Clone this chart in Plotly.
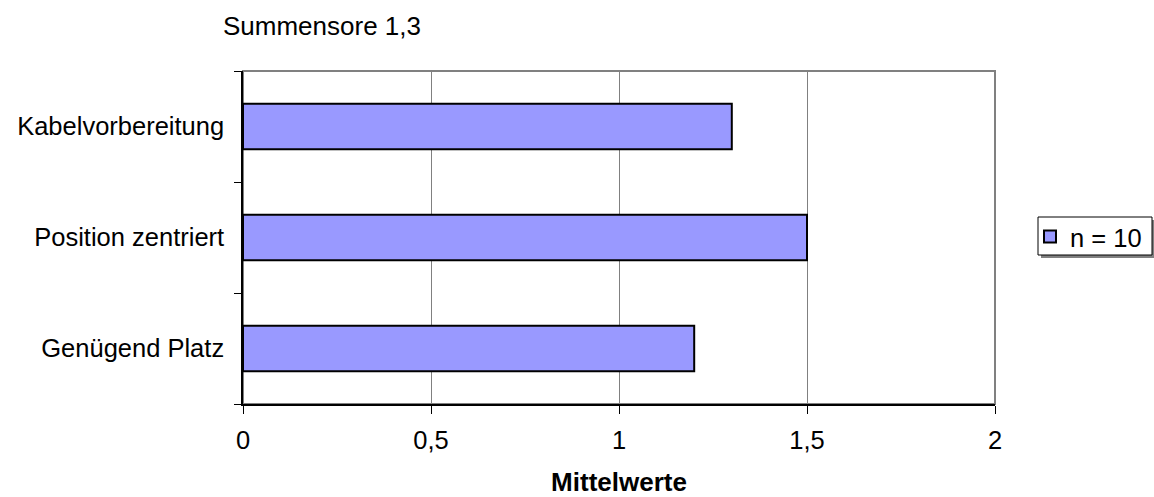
import plotly.graph_objects as go

# Mean ratings per criterion (bottom to top)
categories = ["Genügend Platz", "Position zentriert", "Kabelvorbereitung"]
means = [1.2, 1.5, 1.3]
series_name = "n = 10"
x_ticks = [0, 0.5, 1, 1.5, 2]
x_tick_labels = ["0", "0,5", "1", "1,5", "2"]

FONT = "Liberation Sans, Arial, sans-serif"
W, H = 1154, 497
L, R, T, B = 243, 159, 71, 93
PW, PH = W - L - R, H - T - B


def px_x(p):
    return (p - L) / PW


def px_y(p):
    return (H - B - p) / PH


fig = go.Figure()
fig.add_trace(go.Bar(
    y=categories,
    x=means,
    orientation="h",
    name=series_name,
    width=0.41,
    marker=dict(color="#9999FF", line=dict(color="#000000", width=2)),
    showlegend=True,
))

# Plot area frame (grey) drawn beneath the black axis lines
fig.add_shape(type="rect", xref="paper", yref="paper", x0=0, x1=1, y0=0, y1=1,
              line=dict(color="#808080", width=2), layer="below")

# Legend frame with drop shadow
fig.add_shape(type="rect", xref="paper", yref="paper",
              x0=px_x(1041), x1=px_x(1156), y0=px_y(258), y1=px_y(220),
              line=dict(width=0), fillcolor="#808080", layer="below")
fig.add_shape(type="rect", xref="paper", yref="paper",
              x0=px_x(1038), x1=px_x(1152), y0=px_y(255), y1=px_y(217),
              line=dict(color="#000000", width=1), fillcolor="#ffffff", layer="below")

fig.update_layout(
    width=W, height=H,
    margin=dict(l=L, r=R, t=T, b=B, autoexpand=False),
    paper_bgcolor="white", plot_bgcolor="white",
    font=dict(family=FONT, size=25.5, color="#000000"),
    bargap=0.59,
    title=dict(text="Summensore 1,3", x=223 / W, xanchor="left",
               y=1 - 26 / H, yanchor="middle",
               font=dict(family=FONT, size=26, color="#000000")),
    xaxis=dict(
        range=[0, 2], tickmode="array", tickvals=x_ticks, ticktext=x_tick_labels,
        showgrid=True, gridcolor="#808080", gridwidth=1,
        showline=True, linecolor="#000000", linewidth=1.5,
        ticks="outside", ticklen=8, tickcolor="#000000", tickwidth=1,
        tickfont=dict(size=25.5), zeroline=False, ticklabelstandoff=5,
        title=dict(text="<b>Mittelwerte</b>", font=dict(size=26), standoff=24),
    ),
    yaxis=dict(
        categoryorder="array", categoryarray=categories,
        range=[-0.5, 2.5], tickson="boundaries",
        showgrid=False, showline=True, linecolor="#000000", linewidth=1.5,
        ticks="outside", ticklen=7, tickcolor="#000000", tickwidth=1,
        tickfont=dict(size=25.5), ticklabelstandoff=12,
    ),
    legend=dict(
        x=px_x(1030), xanchor="left", y=px_y(237), yanchor="middle",
        bgcolor="rgba(0,0,0,0)", borderwidth=0,
        font=dict(size=25.5),
    ),
)

fig.write_html("out.html")
